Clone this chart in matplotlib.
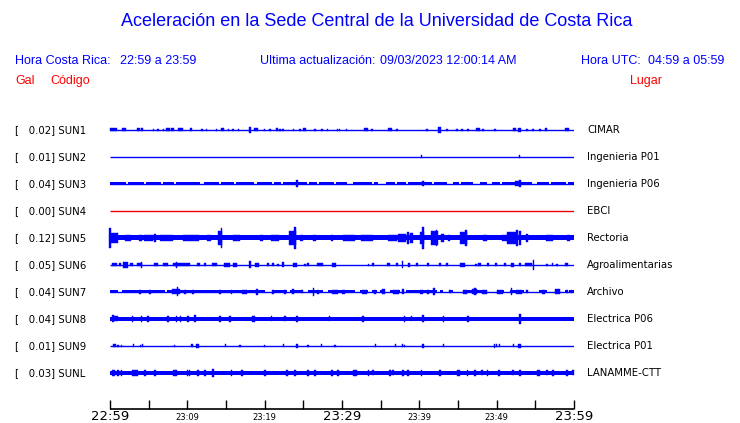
import matplotlib
matplotlib.use("Agg")
import matplotlib.pyplot as plt

W, H = 740, 423

stations = ["SUN1", "SUN2", "SUN3", "SUN4", "SUN5", "SUN6", "SUN7", "SUN8", "SUN9", "SUNL"]
places = ["CIMAR", "Ingenieria P01", "Ingenieria P06", "EBCI", "Rectoria",
          "Agroalimentarias", "Archivo", "Electrica P06", "Electrica P01", "LANAMME-CTT"]
peak_gal = [0.02, 0.01, 0.04, 0.00, 0.12, 0.05, 0.04, 0.04, 0.01, 0.03]
trace_colors = ["#0000ff", "#0000ff", "#0000ff", "#ee0000", "#0000ff",
                "#0000ff", "#0000ff", "#0000ff", "#0000ff", "#0000ff"]
# continuous noise band half-height (pixels of the trace scale)
band_half = [0, 0, 1.5, 0, 2.5, 0, 1.5, 2.2, 0, 2.0]

# quiet gaps in the noise band: (minute, duration)
sun3_gaps = [(2.2, 0.3), (4.5, 0.3), (6.7, 0.3), (8.4, 0.3), (11.9, 0.4), (14.2, 0.3),
             (16.2, 0.3), (18.8, 0.3), (21.1, 0.3), (22.2, 0.3), (25.6, 0.3), (26.9, 0.3),
             (29.1, 0.3), (31.0, 0.8), (34.0, 0.3), (35.2, 1.1), (37.0, 0.3), (38.4, 0.3),
             (41.8, 0.3), (44.0, 0.8), (45.3, 0.3), (47.4, 0.8), (49.1, 0.7), (50.6, 0.3),
             (54.9, 0.6), (56.9, 0.3), (59.1, 0.3)]
sun7_gaps = [(1.3, 0.5), (7.2, 0.3), (20.5, 0.8), (23.1, 0.4), (25.2, 0.8), (27.9, 0.6),
             (32.0, 0.6), (33.6, 0.6), (34.7, 0.4), (35.9, 0.6), (37.9, 0.8), (42.5, 0.4),
             (43.5, 0.8), (45.0, 1.2), (49.4, 1.2), (51.3, 0.8), (54.5, 2.0), (57.0, 1.0),
             (58.5, 0.6), (59.2, 0.3)]
band_gaps = [[], [], sun3_gaps, [], [], [], sun7_gaps, [], [], []]

# bursts: (minute, half-height, duration in minutes)
sun1_events = [(0.4, 1.5, 0.9), (1.8, 1.5, 0.5), (3.7, 1.5, 0.3), (4.1, 1.5, 0.3), (5.6, 1, 0.15),
               (6.2, 1, 0.15), (6.9, 1, 0.15), (7.5, 1.5, 0.4), (8.1, 1.5, 0.4), (9.1, 1.5, 0.6),
               (10.5, 1.5, 0.3), (11.9, 1, 0.15), (12.5, 1, 0.2), (13.8, 1, 0.15), (14.6, 1.5, 0.4),
               (15.3, 1, 0.2), (15.9, 1, 0.2), (16.6, 1, 0.2), (18.1, 3, 0.3), (18.9, 1.5, 0.6),
               (20.0, 1, 0.2), (20.7, 1, 0.2), (21.6, 1.5, 0.3), (22.0, 1, 0.2), (22.4, 1, 0.2),
               (23.7, 1, 0.2), (24.6, 1, 0.2), (25.2, 1.5, 0.4), (26.5, 1, 0.2), (27.4, 1, 0.2),
               (28.1, 1, 0.2), (29.4, 1, 0.2), (29.7, 1, 0.2), (30.6, 1, 0.2), (33.1, 1.5, 0.5),
               (33.9, 1, 0.2), (36.2, 1.5, 0.6), (37.1, 1, 0.2), (41.0, 1, 0.2), (42.6, 3, 0.3),
               (43.6, 1, 0.2), (44.9, 1, 0.2), (45.5, 1, 0.2), (46.3, 1, 0.2), (47.6, 1.5, 0.5),
               (48.2, 1, 0.2), (49.8, 1, 0.2), (52.3, 1.5, 0.5), (52.9, 2, 0.4), (53.9, 1, 0.2),
               (54.7, 1, 0.2), (55.6, 1, 0.2), (56.4, 1.5, 0.3), (59.1, 1.5, 0.6)]
sun2_events = [(40.3, 1.5, 0.15), (53.0, 1.5, 0.15)]
sun3_events = [(24.2, 3.5, 0.2), (40.5, 2.5, 0.3), (52.6, 2.5, 0.5), (53.0, 3.5, 0.3)]
sun4_events = []
sun5_events = [(0.0, 10, 0.15), (0.5, 5, 1.0), (2.3, 3, 0.8), (3.9, 3, 0.4), (5.0, 3, 1.2),
               (5.8, 4, 0.2), (7.3, 3, 1.6), (10.5, 3, 2.0), (12.8, 3, 0.4), (14.2, 7, 0.5),
               (14.4, 10, 0.15), (16.4, 3, 0.9), (19.6, 3, 0.4), (21.3, 3, 1.0), (23.6, 7, 0.8),
               (23.9, 11, 0.2), (24.8, 3, 0.4), (26.5, 3, 0.4), (28.7, 3, 0.3), (30.9, 3, 1.5),
               (33.2, 3, 1.6), (36.5, 3, 1.2), (37.8, 4, 1.0), (38.5, 6, 0.3), (39.0, 5, 0.3),
               (40.3, 6, 0.5), (40.5, 11, 0.2), (41.9, 7, 0.9), (42.2, 8, 0.2), (43.0, 4, 0.3),
               (43.8, 3, 0.3), (45.7, 6, 0.9), (46.0, 8, 0.3), (48.5, 3, 0.5), (51.0, 3, 0.7),
               (52.0, 6, 1.3), (52.6, 8, 0.2), (53.0, 7, 0.2), (53.9, 4, 0.3), (56.8, 3, 0.9),
               (59.3, 3, 0.3)]
sun6_events = [(0.6, 1.5, 0.6), (1.3, 1.5, 0.3), (2.0, 3, 0.6), (2.8, 1.5, 0.4), (3.8, 1.5, 0.6),
               (4.1, 3, 0.15), (5.9, 1.5, 0.5), (7.2, 1.5, 0.6), (9.2, 1.5, 2.2), (8.6, 3, 0.15),
               (11.5, 1.5, 0.4), (12.3, 1.5, 0.2), (13.5, 1.5, 0.6), (15.1, 2, 0.8), (16.2, 2, 0.5),
               (18.1, 3.5, 0.2), (19.0, 2, 0.5), (20.4, 1.5, 0.2), (21.1, 1.5, 0.3), (21.7, 1, 0.2),
               (22.4, 2.5, 0.3), (23.9, 2, 0.5), (25.2, 1, 0.2), (25.6, 1.5, 0.2), (27.2, 1.5, 0.8),
               (29.0, 2, 0.5), (33.4, 1, 0.2), (34.0, 1.5, 0.2), (36.0, 1.5, 0.4), (37.1, 1.5, 0.2),
               (37.8, 3.5, 0.15), (38.7, 2, 0.3), (39.7, 1.5, 0.3), (41.1, 1.5, 0.3), (42.7, 1.5, 0.3),
               (43.6, 1.5, 0.3), (45.6, 2, 0.7), (47.3, 1, 0.2), (47.8, 1.5, 0.3), (48.9, 1.5, 0.3),
               (49.9, 1.5, 0.3), (51.1, 1.5, 0.2), (52.1, 2, 0.4), (53.0, 1.5, 0.3), (54.1, 1.5, 0.9),
               (54.8, 5, 0.15), (56.5, 1, 0.2), (57.2, 1.5, 0.2), (57.8, 1, 0.2), (59.0, 1.5, 0.4)]
sun7_events = [(3.9, 2, 0.3), (5.2, 2, 0.3), (8.5, 2.5, 1.0), (8.7, 4.5, 0.2), (9.7, 2, 0.2),
               (10.7, 2, 0.2), (14.2, 2, 0.2), (15.7, 2, 0.2), (17.4, 2, 0.6), (19.0, 3, 0.3),
               (21.1, 2, 0.2), (22.6, 2, 0.3), (23.7, 2.5, 0.3), (24.8, 1.5, 0.2), (26.3, 4, 0.2),
               (26.9, 2, 0.3), (29.1, 2, 0.7), (30.2, 2, 0.3), (32.9, 2, 0.6), (34.3, 2, 0.3),
               (35.4, 2.5, 0.4), (37.0, 2, 0.8), (37.9, 2.5, 0.2), (40.3, 2, 0.4), (41.1, 2, 0.3),
               (41.9, 3.5, 0.2), (44.0, 1.5, 0.2), (45.9, 2, 0.5), (47.1, 2.5, 0.6), (47.2, 3.5, 0.2),
               (48.4, 2, 0.6), (50.4, 2, 0.8), (51.9, 3.5, 0.2), (52.9, 2, 0.8), (53.9, 1.5, 0.2),
               (56.1, 2, 0.4), (57.9, 2.5, 0.6), (59.1, 1.5, 0.2), (59.7, 1.5, 0.2)]
sun8_events = [(0.4, 3.5, 0.2), (0.7, 2.5, 0.6), (2.9, 3, 0.2), (4.1, 3, 0.2), (4.9, 3, 0.2),
               (7.5, 3, 0.2), (8.6, 3, 0.2), (9.1, 3, 0.2), (10.1, 3, 0.2), (11.0, 3.5, 0.3),
               (14.2, 3, 0.2), (15.5, 3, 0.2), (18.6, 3, 0.4), (20.9, 2.5, 0.2), (22.6, 2.5, 0.2),
               (24.2, 3, 0.3), (28.4, 2.5, 0.2), (32.7, 3, 0.2), (38.1, 3, 0.2), (39.0, 2.5, 0.2),
               (40.5, 3.5, 0.3), (43.1, 3, 0.2), (46.3, 3, 0.3), (53.0, 5, 0.3)]
sun9_events = [(0.6, 1.5, 0.3), (1.0, 1, 0.2), (1.5, 1, 0.15), (3.0, 1.5, 0.15), (3.9, 1, 0.15),
               (4.2, 1.5, 0.15), (8.3, 1, 0.15), (10.6, 1.5, 0.15), (11.3, 2, 0.3), (14.9, 1.5, 0.15),
               (16.8, 1, 0.15), (20.0, 1, 0.15), (22.4, 1.5, 0.15), (24.2, 2, 0.3), (25.6, 1, 0.15),
               (27.4, 1.5, 0.15), (29.1, 1, 0.15), (34.3, 1.5, 0.15), (36.9, 1.5, 0.15),
               (37.8, 1.5, 0.15), (38.1, 1, 0.15), (40.5, 2, 0.2), (43.1, 1.5, 0.15), (49.7, 2, 0.15),
               (50.0, 1.5, 0.15), (50.4, 1.5, 0.15), (52.2, 1.5, 0.15), (53.0, 2, 0.4)]
sunl_events = [(0.4, 3, 0.4), (1.0, 3, 0.2), (1.5, 3, 0.2), (3.2, 3, 0.8), (4.5, 3, 0.2),
               (5.8, 3, 0.3), (8.4, 3, 0.6), (10.0, 3, 0.2), (10.3, 3, 0.2), (11.4, 3, 0.3),
               (12.3, 3, 0.2), (13.3, 4, 0.2), (15.7, 3, 0.2), (17.1, 3, 0.2), (20.0, 3, 0.3),
               (22.9, 3, 0.3), (23.9, 3, 0.2), (25.6, 3, 0.2), (26.5, 3, 0.2), (28.7, 3, 0.3),
               (29.5, 3, 0.2), (31.7, 3, 0.5), (33.4, 3, 0.2), (34.0, 2.5, 0.2), (36.2, 3, 0.2),
               (36.6, 2.5, 0.2), (37.9, 3, 0.2), (38.5, 3, 0.2), (40.3, 3, 0.2), (42.7, 3, 0.3),
               (45.1, 3, 0.4), (46.2, 3, 0.2), (47.2, 3, 0.2), (48.1, 2.5, 0.2), (48.8, 3, 0.2),
               (50.3, 3, 0.3), (52.1, 2.5, 0.2), (53.0, 3, 0.2), (55.4, 3, 0.3), (56.5, 2.5, 0.2),
               (57.3, 3, 0.2), (59.1, 3, 0.3), (59.9, 2.5, 0.2)]
all_events = [sun1_events, sun2_events, sun3_events, sun4_events, sun5_events,
              sun6_events, sun7_events, sun8_events, sun9_events, sunl_events]

tick_minutes = list(range(0, 61, 5))
label_minutes = [0, 10, 20, 30, 40, 50, 60]
label_texts = ["22:59", "23:09", "23:19", "23:29", "23:39", "23:49", "23:59"]
label_big = [True, False, False, True, False, False, True]

T0, T1 = 0, 60
BLUE = "#0000ff"
RED = "#ff0000"

fig = plt.figure(figsize=(W / 100, H / 100), dpi=100)
fig.patch.set_facecolor("white")
X0, X1 = 110, 574
ax = fig.add_axes([X0 / W, 0, (X1 - X0) / W, 1])
ax.set_xlim(T0, T1)
ax.set_ylim(H, 0)
ax.axis("off")


def fx(x):
    return x / W


def fy(y):
    return 1 - y / H


TOP, STEP = 130, 27
for i, st in enumerate(stations):
    c = TOP + STEP * i
    col = trace_colors[i]
    ax.hlines(c, T0, T1, color=col, lw=1.0)
    b = band_half[i]
    if b > 0:
        segs = []
        start = T0
        for g, d in band_gaps[i]:
            segs.append((start, g - d / 2 - start))
            start = g + d / 2
        segs.append((start, T1 - start))
        ax.broken_barh(segs, (c - b, 2 * b), facecolors=col, edgecolor="none")
    ev = all_events[i]
    if ev:
        ts = [e[0] for e in ev]
        amps = [e[1] for e in ev]
        ws = [e[2] for e in ev]
        ax.bar(ts, [2 * a for a in amps], width=ws, bottom=[c - a for a in amps],
               color=col, edgecolor=col, linewidth=0.3, align="center", clip_on=False)
    fig.text(fx(15), fy(c), f"[   {peak_gal[i]:.2f}] {st}", fontsize=7.3,
             family="DejaVu Sans", va="center", ha="left", color="black")
    fig.text(fx(587), fy(c), places[i], fontsize=7.3,
             family="DejaVu Sans", va="center", ha="left", color="black")

# time axis
AX_Y = 409
ax.hlines(AX_Y, T0, T1, color="black", lw=1.2, clip_on=False)
ax.vlines(tick_minutes, AX_Y - 9, AX_Y, color="black", lw=1.0, clip_on=False)
for m, t, big in zip(label_minutes, label_texts, label_big):
    ax.text(m, 417, t, fontsize=9.5 if big else 6.0, family="DejaVu Sans",
            ha="center", va="center", color="black", clip_on=False)

# header texts
hf = "Liberation Sans"
fig.text(fx(377), fy(22), "Aceleración en la Sede Central de la Universidad de Costa Rica",
         fontsize=13, family=hf, color=BLUE, ha="center", va="center")
fig.text(fx(15), fy(61), "Hora Costa Rica:", fontsize=9, family=hf, color=BLUE, va="center")
fig.text(fx(120), fy(61), "22:59 a 23:59", fontsize=9, family=hf, color=BLUE, va="center")
fig.text(fx(260), fy(61), "Ultima actualización:", fontsize=9, family=hf, color=BLUE, va="center")
fig.text(fx(380), fy(61), "09/03/2023 12:00:14 AM", fontsize=9, family=hf, color=BLUE, va="center")
fig.text(fx(581), fy(61), "Hora UTC:", fontsize=9, family=hf, color=BLUE, va="center")
fig.text(fx(724), fy(61), "04:59 a 05:59", fontsize=9, family=hf, color=BLUE, va="center", ha="right")
fig.text(fx(15), fy(81), "Gal", fontsize=9, family=hf, color=RED, va="center")
fig.text(fx(50), fy(81), "Código", fontsize=9, family=hf, color=RED, va="center")
fig.text(fx(662), fy(81), "Lugar", fontsize=9, family=hf, color=RED, va="center", ha="right")

fig.savefig("out.png", dpi=100, facecolor="white")
